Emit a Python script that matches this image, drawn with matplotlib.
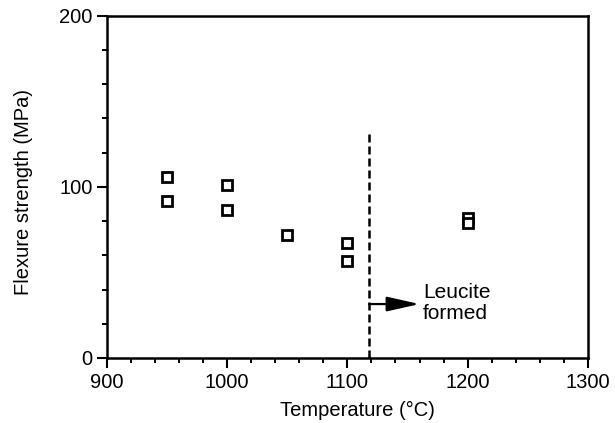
import matplotlib
matplotlib.use("Agg")
import matplotlib.pyplot as plt
from matplotlib.ticker import MultipleLocator

# data
temperature = [950, 950, 1000, 1000, 1050, 1100, 1100, 1200, 1200]
strength = [106, 91.5, 101, 86.5, 72, 67, 56.5, 82, 79]

leucite_temp = 1118   # dashed line position
line_top = 132
arrow_y = 31.5
arrow_end = 1160

plt.rcParams['font.family'] = ['Liberation Sans', 'DejaVu Sans']

fig = plt.figure(figsize=(6.15, 4.23), dpi=100)
ax = fig.add_axes([0.1735, 0.1537, 0.7825, 0.8095])

ax.plot(temperature, strength, linestyle='none', marker='s', markersize=7.4,
        markerfacecolor='white', markeredgecolor='black', markeredgewidth=2.0)

# leucite boundary
ax.plot([leucite_temp, leucite_temp], [0, line_top], color='black', lw=1.8,
        dashes=(3.2, 1.6))
ax.annotate('', xy=(arrow_end, arrow_y), xytext=(leucite_temp, arrow_y),
            arrowprops=dict(arrowstyle='-|>,head_length=2.0,head_width=0.45',
                            color='black', lw=1.6, shrinkA=0, shrinkB=0))
ax.text(1163, 32, 'Leucite\nformed', fontsize=15, va='center', ha='left',
        linespacing=1.1)

ax.set_xlim(900, 1300)
ax.set_ylim(0, 200)
ax.xaxis.set_major_locator(MultipleLocator(100))
ax.xaxis.set_minor_locator(MultipleLocator(20))
ax.yaxis.set_major_locator(MultipleLocator(100))
ax.yaxis.set_minor_locator(MultipleLocator(20))

ax.tick_params(which='major', direction='out', length=7, width=1.5,
               labelsize=14.5, pad=3)
ax.tick_params(which='minor', direction='out', length=3.5, width=1.4)
ax.tick_params(axis='x', which='major', pad=4)

for s in ax.spines.values():
    s.set_linewidth(1.8)

ax.set_xlabel('Temperature (°C)', fontsize=14.5, labelpad=6, x=0.52)
ax.set_ylabel('Flexure strength (MPa)', fontsize=14.5, labelpad=19, y=0.485)

fig.savefig('out.png', dpi=100)
